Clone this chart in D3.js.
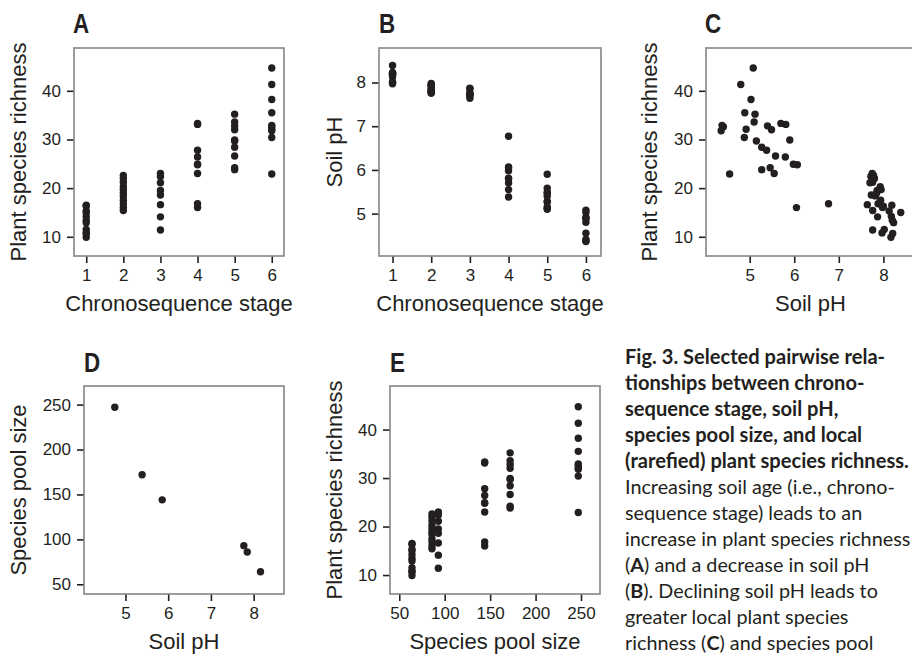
<!DOCTYPE html>
<html>
<head>
<meta charset="utf-8">
<script src="https://cdn.jsdelivr.net/npm/d3@7"></script>
<style>
  html, body { margin: 0; padding: 0; background: #ffffff; }
  svg { display: block; }
</style>
</head>
<body>
<svg id="fig" width="912" height="656" xmlns="http://www.w3.org/2000/svg"></svg>
<script>
// ---------------- DATA ----------------
const stages = [1, 2, 3, 4, 5, 6];

// Local (rarefied) plant species richness of each plot, grouped by chronosequence stage
const richness = [
  [15.0, 16.5, 16.3, 15.3, 14.2, 13.4, 12.9, 11.5, 10.8, 10.7, 9.9],
  [22.6, 22.0, 21.2, 20.3, 19.7, 19.0, 18.4, 17.5, 16.8, 16.0, 15.4],
  [23.0, 22.4, 21.1, 19.5, 18.6, 16.6, 14.1, 11.4],
  [33.3, 33.1, 27.8, 26.4, 24.9, 24.8, 23.0, 16.0, 16.8],
  [35.2, 33.6, 32.8, 32.0, 29.9, 29.7, 28.4, 26.6, 24.2, 23.8],
  [44.7, 41.3, 38.2, 35.5, 32.1, 30.4, 32.9, 32.6, 31.8, 22.9]
];

// Soil pH of the same plots (same order as richness)
const soilPH = [
  [8.39, 8.19, 8.00, 8.13, 8.18, 8.20, 8.23, 8.02, 7.97, 8.21, 8.17],
  [7.78, 7.80, 7.76, 7.93, 7.95, 7.85, 7.82, 7.94, 7.88, 7.98, 7.76],
  [7.75, 7.72, 7.70, 7.86, 7.73, 7.64, 7.87, 7.76],
  [5.70, 5.81, 5.38, 5.80, 5.98, 6.07, 5.55, 6.05, 6.77],
  [5.12, 5.10, 5.40, 5.49, 5.90, 5.15, 5.27, 5.58, 5.46, 5.27],
  [5.08, 4.80, 5.03, 4.89, 4.92, 4.88, 4.38, 4.41, 4.36, 4.55]
];

// Stage-level values (panel D and E)
const stageSoilPH    = [8.16, 7.85, 7.77, 5.86, 5.39, 4.75];
const stagePoolSize  = [64, 86, 93, 144, 172, 247];

// Tick labels
const stageTicks    = [1, 2, 3, 4, 5, 6];
const richnessTicks = [10, 20, 30, 40];
const phTicksB      = [5, 6, 7, 8];
const phTicks       = [5, 6, 7, 8];
const poolTicks     = [50, 100, 150, 200, 250];

// Caption
const captionBold = [
  "Fig. 3. Selected pairwise rela-",
  "tionships between chrono-",
  "sequence stage, soil pH,",
  "species pool size, and local",
  "(rarefied) plant species richness."
];
const captionBody = [
  [["Increasing soil age (i.e., chrono-", 0]],
  [["sequence stage) leads to an", 0]],
  [["increase in plant species richness", 0]],
  [["(", 0], ["A", 1], [") and a decrease in soil pH", 0]],
  [["(", 0], ["B", 1], ["). Declining soil pH leads to", 0]],
  [["greater local plant species", 0]],
  [["richness (", 0], ["C", 1], [") and species pool", 0]]
];

// ---------------- DRAWING ----------------
const INK = "#231f20";
const FRAME = "#858585";
const AXIS_FONT = "Liberation Sans, Arial, Helvetica, sans-serif";
const LABEL_FONT = "Liberation Sans, Arial, sans-serif";
const CAP_FONT = "Lato, Open Sans, sans-serif";

const svg = d3.select("#fig");
const frameLayer = [];

// flatten plot-level data
const plots = [];
stages.forEach((s, i) => {
  richness[i].forEach((r, j) => {
    plots.push({ stage: s, rich: r, ph: soilPH[i][j], pool: stagePoolSize[i] });
  });
});

function styleAxis(a) {
  a.attr("font-family", AXIS_FONT).attr("font-size", 17);
  a.select(".domain").remove();
  a.selectAll(".tick line").attr("stroke", INK).attr("stroke-width", 1.6);
  a.selectAll(".tick text").attr("fill", INK);
}

function drawPanel(cfg) {
  const g = svg.append("g");
  const b = cfg.box;
  const sx = d3.scaleLinear().domain(cfg.xDomain).range([b.left, b.right]);
  const sy = d3.scaleLinear().domain(cfg.yDomain).range([b.bottom, b.top]);

  const xa = g.append("g")
    .attr("transform", `translate(0,${b.bottom})`)
    .call(d3.axisBottom(sx).tickValues(cfg.xTicks).tickSize(7).tickSizeOuter(0).tickPadding(6).tickFormat(d3.format("d")));
  styleAxis(xa);
  const ya = g.append("g")
    .attr("transform", `translate(${b.left},0)`)
    .call(d3.axisLeft(sy).tickValues(cfg.yTicks).tickSize(7).tickSizeOuter(0).tickPadding(6).tickFormat(d3.format("d")));
  styleAxis(ya);

  g.append("g").selectAll("circle")
    .data(cfg.points)
    .join("circle")
    .attr("cx", d => sx(cfg.xv(d)))
    .attr("cy", d => sy(cfg.yv(d)))
    .attr("r", 3.7)
    .attr("fill", INK);

  // axis titles
  g.append("text")
    .attr("x", (b.left + b.right) / 2)
    .attr("y", b.bottom + 55)
    .attr("text-anchor", "middle")
    .attr("fill", INK)
    .attr("font-family", AXIS_FONT)
    .attr("font-size", 22)
    .text(cfg.xTitle);
  g.append("text")
    .attr("transform", `translate(${b.left - cfg.yTitleOff},${(b.top + b.bottom) / 2}) rotate(-90)`)
    .attr("text-anchor", "middle")
    .attr("fill", INK)
    .attr("font-family", AXIS_FONT)
    .attr("font-size", 22)
    .text(cfg.yTitle);

  // panel letter (condensed bold)
  g.append("text")
    .attr("transform", `translate(${cfg.labelX},${cfg.labelY}) scale(0.8,1)`)
    .attr("fill", INK)
    .attr("font-family", LABEL_FONT)
    .attr("font-weight", "bold")
    .attr("font-size", 28)
    .text(cfg.label);

  // frame extent from the scales, drawn later on top
  frameLayer.push({ x0: sx.range()[0], x1: sx.range()[1], y0: sy.range()[1], y1: sy.range()[0] });
}

// Panel A
drawPanel({
  label: "A", labelX: 73, labelY: 33,
  box: { left: 74, right: 284, top: 48, bottom: 256 },
  xDomain: [0.67, 6.33], yDomain: [6.05, 48.8],
  xTicks: stageTicks, yTicks: richnessTicks,
  points: plots, xv: d => d.stage, yv: d => d.rich,
  xTitle: "Chronosequence stage", yTitle: "Plant species richness", yTitleOff: 48
});

// Panel B
drawPanel({
  label: "B", labelX: 379, labelY: 33,
  box: { left: 379, right: 601, top: 48, bottom: 256 },
  xDomain: [0.65, 6.39], yDomain: [4.03, 8.79],
  xTicks: stageTicks, yTicks: phTicksB,
  points: plots, xv: d => d.stage, yv: d => d.ph,
  xTitle: "Chronosequence stage", yTitle: "Soil pH", yTitleOff: 37
});

// Panel C (box extends past the right edge, as in the reference)
drawPanel({
  label: "C", labelX: 705, labelY: 33,
  box: { left: 706, right: 915, top: 48, bottom: 256 },
  xDomain: [4.02, 8.71], yDomain: [6.05, 48.8],
  xTicks: phTicks, yTicks: richnessTicks,
  points: plots, xv: d => d.ph, yv: d => d.rich,
  xTitle: "Soil pH", yTitle: "Plant species richness", yTitleOff: 49
});

// Panel D
const stagePoints = stages.map((s, i) => ({ ph: stageSoilPH[i], pool: stagePoolSize[i] }));
drawPanel({
  label: "D", labelX: 84, labelY: 372,
  box: { left: 84, right: 284, top: 386, bottom: 594 },
  xDomain: [4.03, 8.71], yDomain: [39.2, 270.7],
  xTicks: phTicks, yTicks: poolTicks,
  points: stagePoints, xv: d => d.ph, yv: d => d.pool,
  xTitle: "Soil pH", yTitle: "Species pool size", yTitleOff: 58
});

// Panel E
drawPanel({
  label: "E", labelX: 390, labelY: 372,
  box: { left: 390, right: 600, top: 386, bottom: 594 },
  xDomain: [39.8, 270.9], yDomain: [6.09, 48.98],
  xTicks: poolTicks, yTicks: richnessTicks,
  points: plots, xv: d => d.pool, yv: d => d.rich,
  xTitle: "Species pool size", yTitle: "Plant species richness", yTitleOff: 48
});

// ---------------- CAPTION ----------------
function measure(str, weight, size) {
  const t = svg.append("text")
    .attr("font-family", CAP_FONT).attr("font-weight", weight)
    .attr("font-size", size).text(str);
  const w = t.node().getComputedTextLength();
  t.remove();
  return w;
}
const boldSize = 17 * 284 / measure(captionBold[4], "bold", 17);
const bodySize = 17 * 270 / measure(captionBody[0][0][0], "normal", 17);

const capX = 625, capY0 = 364, lineH = 26;
const cap = svg.append("g").attr("fill", INK).attr("font-family", CAP_FONT);
captionBold.forEach((line, i) => {
  cap.append("text")
    .attr("x", capX).attr("y", capY0 + i * lineH)
    .attr("font-weight", "bold").attr("font-size", boldSize)
    .text(line);
});
captionBody.forEach((parts, i) => {
  const t = cap.append("text")
    .attr("x", capX).attr("y", capY0 + (captionBold.length + i) * lineH)
    .attr("font-size", bodySize);
  parts.forEach(([s, isBold]) => {
    t.append("tspan").attr("font-weight", isBold ? "bold" : "normal").text(s);
  });
});

// ---------------- PANEL FRAMES (top layer) ----------------
svg.append("g").attr("class", "frames")
  .selectAll("rect")
  .data(frameLayer)
  .join("rect")
  .attr("x", d => d.x0)
  .attr("y", d => d.y0)
  .attr("width", d => d.x1 - d.x0)
  .attr("height", d => d.y1 - d.y0)
  .style("fill", "none")
  .style("stroke", FRAME)
  .style("stroke-width", "1.6px");
</script>
</body>
</html>
